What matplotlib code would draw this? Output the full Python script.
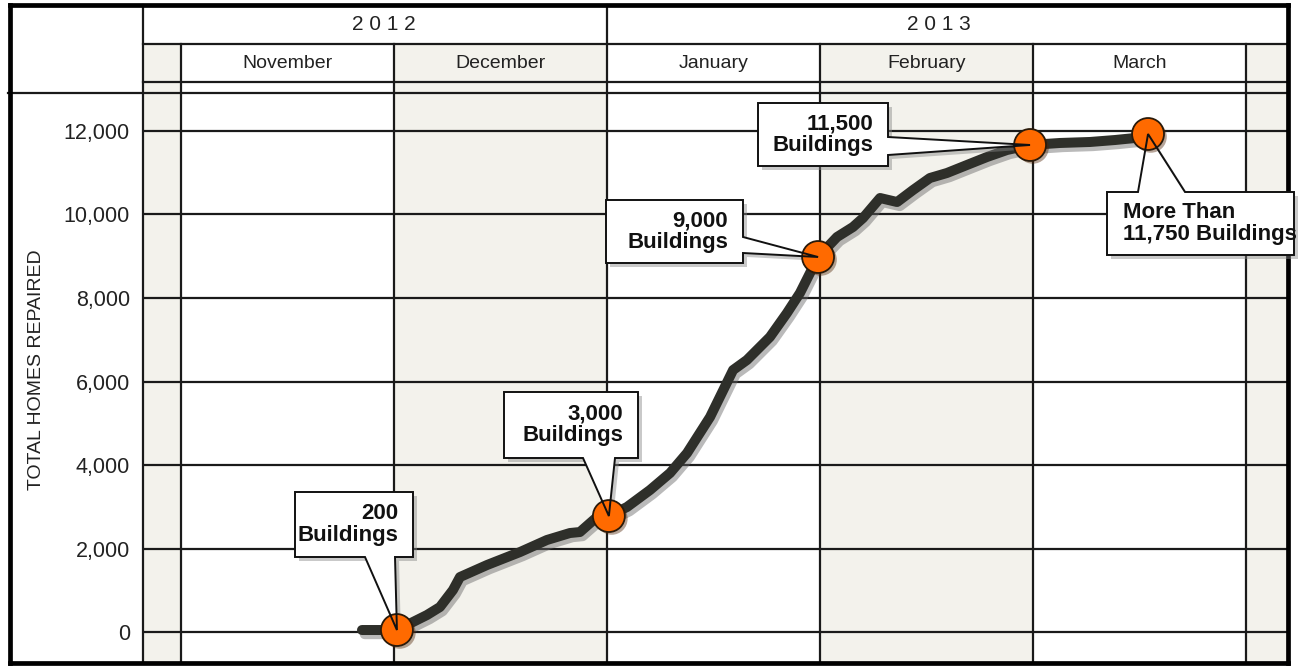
import matplotlib
matplotlib.use("Agg")
import matplotlib.pyplot as plt
from matplotlib.transforms import Affine2D, blended_transform_factory
from matplotlib.patches import Polygon, Rectangle
from matplotlib.lines import Line2D
import matplotlib.patheffects as pe

plt.rcParams['font.family'] = ['Liberation Sans', 'DejaVu Sans']

# ---------------- data ----------------
months = ["November", "December", "January", "February", "March"]
years = ["2 0 1 2", "2 0 1 3"]
year_break = 2  # January starts 2013 (month index)
y_ticks = [0, 2000, 4000, 6000, 8000, 10000, 12000]

# cumulative buildings; x = months since 1 Nov 2012
x_vals = [0.850, 1.014, 1.155, 1.216, 1.277, 1.310, 1.437, 1.592, 1.718, 1.826,
          1.873, 1.953, 2.009, 2.094, 2.202, 2.296, 2.376, 2.484, 2.592, 2.657,
          2.765, 2.845, 2.906, 2.991, 3.080, 3.155, 3.202, 3.282, 3.362, 3.437,
          3.516, 3.596, 3.690, 3.784, 3.878, 3.986, 4.127, 4.268, 4.385, 4.479,
          4.540]
y_vals = [48, 48, 407, 599, 1006, 1317, 1605, 1916, 2204, 2371,
          2395, 2754, 2778, 2994, 3401, 3808, 4287, 5150, 6275, 6515,
          7066, 7641, 8120, 8982, 9461, 9701, 9916, 10395, 10299, 10587,
          10874, 10994, 11186, 11377, 11545, 11665, 11713, 11737, 11784, 11832,
          11928]

milestone_x = [1.014, 2.009, 2.991, 3.986, 4.540]
milestone_y = [48, 2778, 8982, 11665, 11928]
milestone_labels = ["200\nBuildings", "3,000\nBuildings", "9,000\nBuildings",
                    "11,500\nBuildings", "More Than\n11,750 Buildings"]

# ---------------- layout ----------------
W, H = 1304, 668
fig = plt.figure(figsize=(W / 100, H / 100), dpi=100)
fig.patch.set_facecolor('white')

AX_L, AX_R, AX_T, AX_B = 143, 1288, 93, 663
ax = fig.add_axes([AX_L / W, (H - AX_B) / H, (AX_R - AX_L) / W, (AX_B - AX_T) / H])
XMIN, XMAX = -0.178, 5.197
YMIN, YMAX = -742, 12910
ax.set_xlim(XMIN, XMAX)
ax.set_ylim(YMIN, YMAX)
for s in ax.spines.values():
    s.set_visible(False)
ax.set_facecolor('white')

SHADE = '#F3F2EC'
GRID = '#1a1a1a'
pix = Affine2D().scale(1, -1).translate(0, H)
bt = blended_transform_factory(ax.transData, pix)

shaded = [-1, 1, 3, 5]
for i in shaded:
    x0, x1 = max(i, XMIN), min(i + 1, XMAX)
    ax.axvspan(x0, x1, color=SHADE, zorder=0, lw=0)
    ax.add_patch(Rectangle((x0, 44), x1 - x0, AX_T - 44, transform=bt,
                           facecolor=SHADE, edgecolor='none', clip_on=False, zorder=0))

for v in y_ticks:
    ax.axhline(v, color=GRID, lw=1.6, zorder=1)
for b in range(0, 6):
    top = 5 if b == year_break else 44
    ax.add_line(Line2D([b, b], [top, AX_B], transform=bt, color=GRID, lw=1.6,
                       clip_on=False, zorder=1))
ax.add_line(Line2D([XMIN, XMIN], [5, AX_B], transform=bt, color=GRID, lw=1.6,
                   clip_on=False, zorder=1))

for yy, xl in [(44, AX_L), (82, AX_L), (AX_T, 8)]:
    ax.add_line(Line2D([xl, AX_R], [yy, yy], transform=pix, color=GRID, lw=1.6,
                       clip_on=False, zorder=1))

frame_kw = dict(transform=pix, color='black', lw=3.4, clip_on=False, zorder=4,
                solid_capstyle='projecting')
ax.add_line(Line2D([10, 1288], [5, 5], **frame_kw))
ax.add_line(Line2D([10, 10], [5, 663], **frame_kw))
ax.add_line(Line2D([1288, 1288], [5, 663], **frame_kw))
ax.add_line(Line2D([10, 1288], [663, 663], **frame_kw))

# header text
for i, m in enumerate(months):
    ax.text(i + 0.5, 64, m, transform=bt, ha='center', va='center',
            fontsize=14, color='#222222', clip_on=False, zorder=3)
year_spans = [(XMIN, year_break), (year_break, XMAX)]
year_nudge = [0.04, -0.04]
for (a, b), yl, nd in zip(year_spans, years, year_nudge):
    ax.text((a + b) / 2 + nd, 25, yl, transform=bt, ha='center', va='center',
            fontsize=15, color='#222222', clip_on=False, zorder=3)

# y axis
ax.set_xticks([])
ax.set_yticks(y_ticks)
ax.set_yticklabels([f"{v:,}" for v in y_ticks])
ax.tick_params(axis='y', length=0, pad=9.5, labelsize=15.5, labelcolor='#222222')
fig.text(37 / W, 1 - 370 / H, "TOTAL HOMES REPAIRED", rotation=90,
         ha='center', va='center', fontsize=14, color='#222222')

# line
ax.plot(x_vals, y_vals, color='#2E2F2A', lw=7.2, solid_capstyle='round',
        solid_joinstyle='round', zorder=5,
        path_effects=[pe.SimpleLineShadow(offset=(2, -3), shadow_color='#666666', alpha=0.45),
                      pe.Normal()])

# callouts
boxes = [
    (295, 413, 492, 557, 'bottom', (365, 395), 'right'),
    (504, 638, 392, 458, 'bottom', (583, 615), 'right'),
    (606, 743, 200, 263, 'right', (237, 253), 'right'),
    (758, 888, 103, 166, 'right', (137, 155), 'right'),
    (1107, 1294, 192, 255, 'top', (1138, 1185), 'left'),
]


def to_pix(x, y):
    dx, dy = ax.transData.transform((x, y))
    return dx, H - dy


for (L, R, T, B, side, (a, b), align), mx, my, lab in zip(
        boxes, milestone_x, milestone_y, milestone_labels):
    tx, ty = to_pix(mx, my)
    if side == 'bottom':
        verts = [(L, T), (R, T), (R, B), (b, B), (tx, ty), (a, B), (L, B)]
    elif side == 'right':
        verts = [(L, T), (R, T), (R, a), (tx, ty), (R, b), (R, B), (L, B)]
    else:
        verts = [(L, T), (a, T), (tx, ty), (b, T), (R, T), (R, B), (L, B)]
    shadow = [(x + 4, y + 4) for x, y in verts]
    ax.add_patch(Polygon(shadow, closed=True, transform=pix, facecolor='#888888',
                         edgecolor='none', alpha=0.45, clip_on=False, zorder=6))
    ax.add_patch(Polygon(verts, closed=True, transform=pix, facecolor='white',
                         edgecolor='none', clip_on=False, zorder=6.5))
    ax.add_patch(Polygon(verts, closed=True, transform=pix, facecolor='none',
                         edgecolor='#111111', lw=1.4, joinstyle='miter',
                         clip_on=False, zorder=8))
    if align == 'right':
        ax.text(R - 15, (T + B) / 2, lab, transform=pix, ha='right', va='center',
                multialignment='right', fontsize=16, fontweight='bold',
                color='#111111', clip_on=False, zorder=9, linespacing=1.05)
    else:
        ax.text(L + 16, (T + B) / 2, lab, transform=pix, ha='left', va='center',
                multialignment='left', fontsize=16, fontweight='bold',
                color='#111111', clip_on=False, zorder=9, linespacing=1.05)

# milestone markers
ax.plot(milestone_x, milestone_y, 'o', ms=23, color='#FF6A00',
        markeredgecolor='#2a1a0a', markeredgewidth=1.3, zorder=7,
        path_effects=[pe.SimplePatchShadow(offset=(2, -2), alpha=0.4), pe.Normal()])

fig.savefig('out.png', dpi=100)
